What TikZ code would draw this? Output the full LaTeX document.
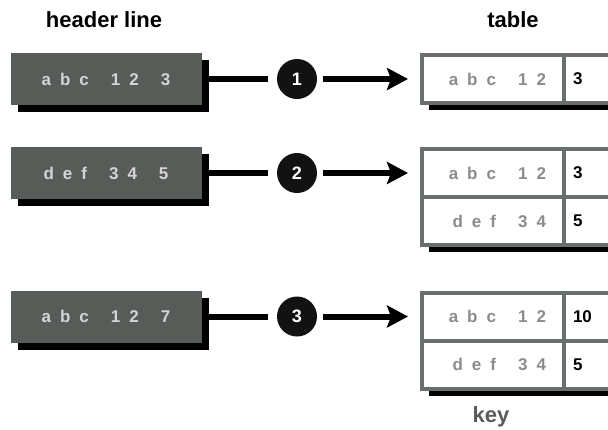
\documentclass[tikz,border=0pt]{standalone}
\usepackage{fontspec}
\setmainfont{Liberation Sans}
\newfontfamily\spacedfont[LetterSpace=53]{Liberation Sans}
\usepackage{tikz}
\usetikzlibrary{arrows.meta,shadows,positioning}
\definecolor{boxgray}{HTML}{585C58}
\definecolor{hdrtext}{HTML}{D4D4D4}
\definecolor{rimgray}{HTML}{6B6F6B}
\definecolor{keygray}{HTML}{8C8C8C}
\definecolor{labelgray}{HTML}{5A5A5A}
\newcommand\gap{\hspace{22pt}}

\begin{document}
\begin{tikzpicture}[x=1pt,y=-1pt,
    title/.style={font=\fontsize{22}{25}\selectfont\bfseries},
    blackshadow/.style={drop shadow={shadow xshift=7pt,shadow yshift=-7pt,fill=black,opacity=1}},
    hdrbox/.style={fill=boxgray,text=hdrtext,minimum width=191pt,minimum height=52pt,inner sep=0pt,
      font=\spacedfont\fontsize{17}{20}\selectfont\bfseries,blackshadow},
    keycell/.style={draw=rimgray,line width=4pt,fill=white,minimum width=141.5pt,minimum height=48pt,
      text width=106.5pt,inner xsep=17.5pt,inner ysep=0pt,align=right,text=keygray,
      font=\spacedfont\fontsize{17}{20}\selectfont\bfseries,blackshadow},
    valcell/.style={draw=rimgray,line width=4pt,fill=white,minimum width=79.5pt,minimum height=48pt,
      text width=60.5pt,inner xsep=9.5pt,inner ysep=0pt,align=left,text=black,
      font=\fontsize{17}{20}\selectfont\bfseries,blackshadow},
    num/.style={circle,fill=black!93,text=white,minimum size=40pt,inner sep=0pt,
      font=\fontsize{18}{20}\selectfont\bfseries},
    link/.style={line width=6pt,shorten >=9pt},
    arrow/.style={line width=6pt,shorten <=6pt,shorten >=12pt,-{Stealth[length=21pt,width=22pt,inset=4pt]}}]
        \def\ya{79}
        \def\yb{173}
        \def\yc{316.5}
        \def\rh{48}
        \useasboundingbox (0,0) rectangle (608,429);
        \clip (0,0) rectangle (608,429);
        %Titles
        \node[title] (hl) at (104,19.5) {header line};
        \node[title] (tb) at (513,19.5) {table};
        %Header line
        \node[hdrbox] (h1) at (106,\ya) {abc\gap12\gap3};
        \node[hdrbox] (h2) at (106,\yb) {def\gap34\gap5};
        \node[hdrbox] (h3) at (106,\yc) {abc\gap12\gap7};
        %Steps
        \node[num] (n1) at (297,\ya) {1};
        \node[num] (n2) at (297,\yb) {2};
        \node[num] (n3) at (297,\yc) {3};
        %Table
        \node[keycell] (k1) at (492.75,\ya) {abc\gap12};
        \node[valcell] (v1) at (603.25,\ya) {3};
        \node[keycell] (k2a) at (492.75,\yb) {abc\gap12};
        \node[valcell] (v2a) at (603.25,\yb) {3};
        \node[keycell] (k2b) at (492.75,\yb+\rh) {def\gap34};
        \node[valcell] (v2b) at (603.25,\yb+\rh) {5};
        \node[keycell] (k3a) at (492.75,\yc) {abc\gap12};
        \node[valcell] (v3a) at (603.25,\yc) {10};
        \node[keycell] (k3b) at (492.75,\yc+\rh) {def\gap34};
        \node[valcell] (v3b) at (603.25,\yc+\rh) {5};
        \node[title,text=labelgray] (ky) at (491,417) {key};
        %Connectors
        \draw[link] (h1) -- (n1);
        \draw[link] (h2) -- (n2);
        \draw[link] (h3) -- (n3);
        \draw[arrow] (n1) -- (k1);
        \draw[arrow] (n2) -- (k2a);
        \draw[arrow] (n3) -- (k3a);
\end{tikzpicture}
\end{document}
